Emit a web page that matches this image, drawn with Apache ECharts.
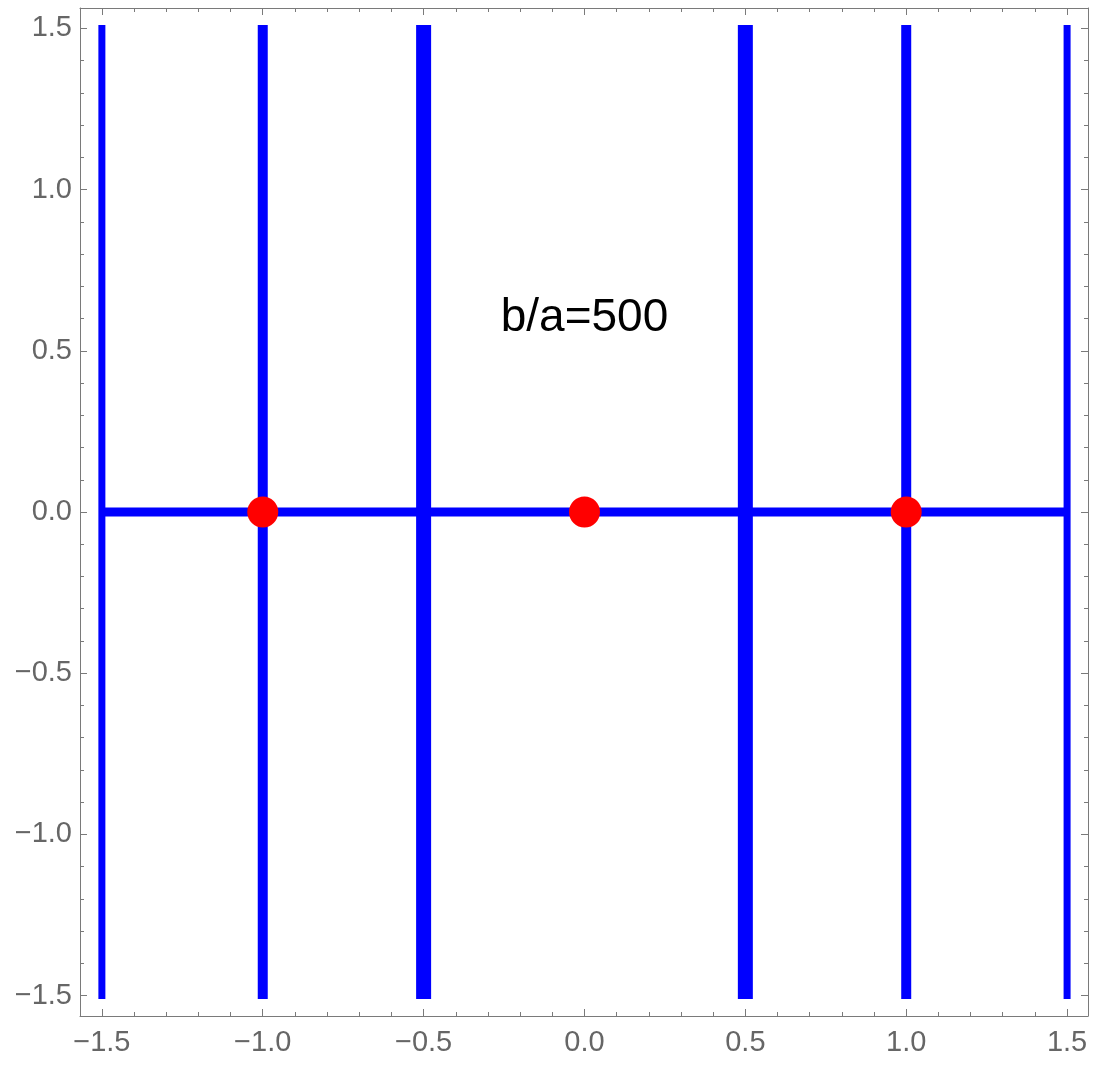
<!DOCTYPE html>
<html>
<head>
<meta charset="utf-8">
<script src="https://cdn.jsdelivr.net/npm/echarts@6/dist/echarts.min.js"></script>
<style>
  html, body { margin: 0; padding: 0; background: #fff; }
  #chart { width: 1099px; height: 1066px; }
</style>
</head>
<body>
<div id="chart"></div>
<script>
// datos
const xRange = [-1.568, 1.565];
const yRange = [-1.563, 1.563];
const verticalXs = [-1.5, -1.0, -0.5, 0.5, 1.0, 1.5];
const verticalSpan = [-1.51, 1.51];
const horizontalLine = [[-1.5, 0], [1.5, 0]];
const redPoints = [[-1, 0], [0, 0], [1, 0]];
const noteText = 'b/a=500';
const notePos = [0, 0.6];

// grosor de cada linea vertical (estilo)
const verticalWidths = [7, 10, 15, 15, 10, 7];

const frameColor = '#7a7a7a';
const labelColor = '#666666';
const fontFamily = '"Liberation Sans", Arial, sans-serif';

const fmt = v => v.toFixed(1).replace('-', '\u2212');

const makeAxis = (pos, showLabel, range) => ({
  type: 'value',
  position: pos,
  min: range[0],
  max: range[1],
  splitNumber: 6,
  axisLine: { show: true, onZero: false, lineStyle: { color: frameColor, width: 1 } },
  axisTick: { show: true, inside: true, length: 7, lineStyle: { color: frameColor, width: 1 } },
  minorTick: { show: true, splitNumber: 5, length: 4, lineStyle: { color: frameColor, width: 1 } },
  splitLine: { show: false },
  axisLabel: {
    show: showLabel,
    showMinLabel: false,
    showMaxLabel: false,
    formatter: fmt,
    color: labelColor,
    fontSize: 29,
    fontFamily: fontFamily,
    margin: (pos === 'bottom') ? 12 : 8
  }
});

const series = [];

verticalXs.forEach((x, i) => {
  series.push({
    type: 'line',
    data: [[x, verticalSpan[0]], [x, verticalSpan[1]]],
    symbol: 'none',
    lineStyle: { color: '#0000ff', width: verticalWidths[i], cap: 'butt' },
    silent: true,
    z: 2
  });
});

series.push({
  type: 'line',
  data: horizontalLine,
  symbol: 'none',
  lineStyle: { color: '#0000ff', width: 9, cap: 'butt' },
  silent: true,
  z: 3
});

series.push({
  type: 'scatter',
  data: redPoints,
  symbol: 'circle',
  symbolSize: 31,
  itemStyle: { color: '#ff0000', opacity: 1 },
  z: 4
});

series.push({
  type: 'scatter',
  data: [notePos],
  symbolSize: 0,
  itemStyle: { opacity: 1 },
  label: {
    show: true,
    position: 'inside',
    formatter: noteText,
    color: '#000000',
    fontSize: 46,
    fontFamily: fontFamily,
    align: 'center',
    verticalAlign: 'middle'
  },
  z: 5
});

const chart = echarts.init(document.getElementById('chart'), null, { renderer: 'canvas' });
chart.setOption({
  animation: false,
  backgroundColor: '#ffffff',
  grid: { left: 80, top: 8, width: 1008, height: 1008, containLabel: false },
  xAxis: [makeAxis('bottom', true, xRange), makeAxis('top', false, xRange)],
  yAxis: [makeAxis('left', true, yRange), makeAxis('right', false, yRange)],
  series: series
});
</script>
</body>
</html>
